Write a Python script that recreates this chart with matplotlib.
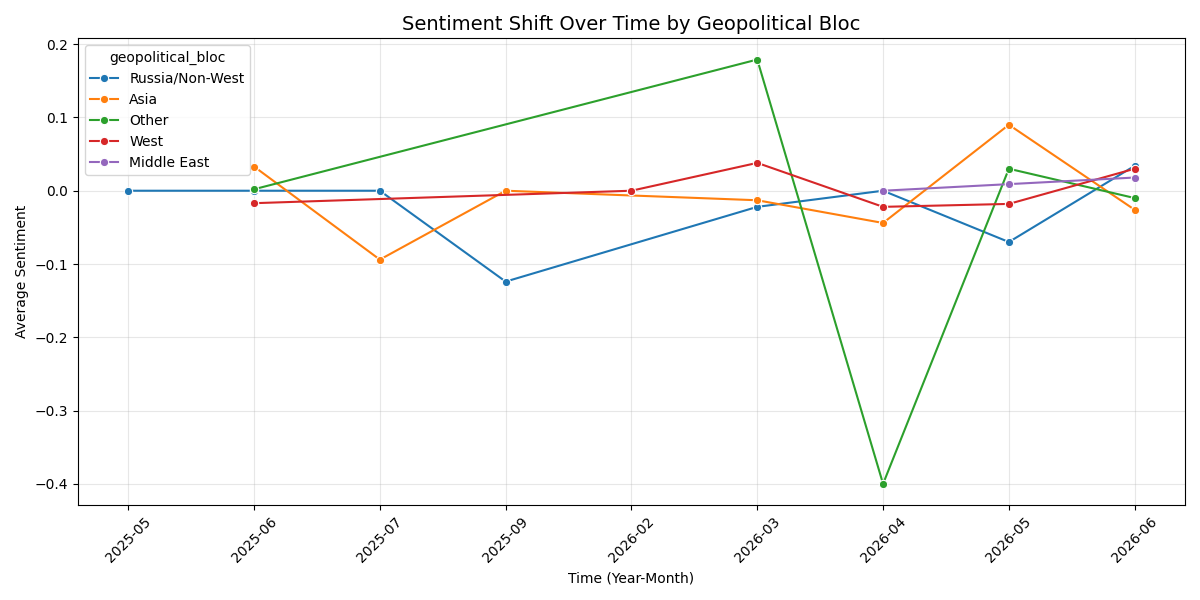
import matplotlib
matplotlib.use("Agg")
import numpy as np
import matplotlib.pyplot as plt

# time categories (Year-Month), equally spaced like a categorical axis
months = ['2025-05', '2025-06', '2025-07', '2025-09', '2026-02',
          '2026-03', '2026-04', '2026-05', '2026-06']

# per bloc: months present + average sentiment
russia_x = ['2025-05', '2025-06', '2025-07', '2025-09', '2026-03', '2026-04', '2026-05', '2026-06']
russia_y = [0.0, 0.0, 0.0, -0.124, -0.022, 0.0, -0.070, 0.034]

asia_x = ['2025-06', '2025-07', '2025-09', '2026-03', '2026-04', '2026-05', '2026-06']
asia_y = [0.033, -0.094, 0.0, -0.013, -0.044, 0.090, -0.026]

other_x = ['2025-06', '2026-03', '2026-04', '2026-05', '2026-06']
other_y = [0.002, 0.179, -0.400, 0.030, -0.010]

west_x = ['2025-06', '2026-02', '2026-03', '2026-04', '2026-05', '2026-06']
west_y = [-0.017, 0.0, 0.038, -0.022, -0.018, 0.030]

mideast_x = ['2026-04', '2026-05', '2026-06']
mideast_y = [0.0, 0.009, 0.018]

series = [
    ('Russia/Non-West', russia_x, russia_y, '#1f77b4'),
    ('Asia', asia_x, asia_y, '#ff7f0e'),
    ('Other', other_x, other_y, '#2ca02c'),
    ('West', west_x, west_y, '#d62728'),
    ('Middle East', mideast_x, mideast_y, '#9467bd'),
]

pos = {m: i for i, m in enumerate(months)}

fig, ax = plt.subplots(figsize=(12, 6), dpi=100)
for name, xs, ys, col in series:
    ax.plot([pos[m] for m in xs], ys, color=col, marker='o', markersize=6,
            markeredgecolor='white', markeredgewidth=0.8, linewidth=1.5, label=name)

ax.set_xticks(range(len(months)))
ax.set_xticklabels(months, rotation=45)
ax.set_xlim(-0.4, len(months) - 1 + 0.4)
ax.set_title('Sentiment Shift Over Time by Geopolitical Bloc', fontsize=14)
ax.set_xlabel('Time (Year-Month)')
ax.set_ylabel('Average Sentiment')
ax.grid(True, alpha=0.3)
ax.legend(title='geopolitical_bloc', loc='upper left')

plt.tight_layout()
plt.savefig('out.png')
